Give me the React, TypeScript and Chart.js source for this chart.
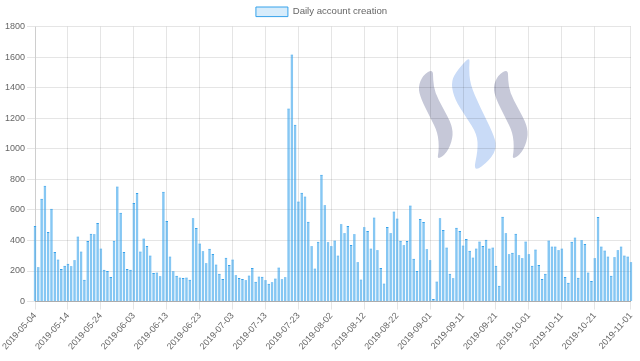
import React, { useEffect, useRef } from "react";
import { Chart, registerables } from "chart.js";

Chart.register(...registerables);

// ---- data ----
const startDate = "2019-05-04";
const dayCount = 182;

const dailyAccounts = [
  495, 224, 673, 758, 455, 607, 325, 275, 213, 235,
  248, 231, 270, 426, 328, 143, 396, 444, 440, 514,
  347, 209, 200, 160, 398, 754, 582, 325, 213, 209,
  646, 710, 328, 413, 363, 301, 187, 191, 165, 719,
  527, 295, 198, 169, 158, 154, 158, 143, 545, 481,
  380, 330, 251, 345, 312, 242, 182, 147, 286, 240,
  275, 172, 155, 148, 140, 170, 220, 129, 164, 162,
  140, 116, 127, 151, 223, 146, 159, 1264, 1618, 1157,
  655, 712, 688, 522, 362, 216, 391, 830, 631, 389,
  362, 400, 301, 506, 448, 495, 371, 440, 257, 145,
  486, 462, 347, 550, 336, 220, 119, 488, 448, 589,
  543, 398, 369, 396, 629, 281, 200, 541, 521, 343,
  270, 16, 132, 545, 468, 354, 182, 152, 484, 462,
  367, 409, 332, 288, 347, 393, 363, 404, 347, 354,
  235, 103, 556, 448, 310, 319, 444, 303, 284, 393,
  310, 235, 341, 240, 147, 182, 400, 360, 360, 336,
  347, 160, 123, 391, 420, 156, 402, 376, 191, 134,
  284, 554, 360, 334, 295, 169, 290, 336, 360, 301,
  295, 257,
];

const tickLabels = [
  "2019-05-04", "2019-05-14", "2019-05-24", "2019-06-03", "2019-06-13",
  "2019-06-23", "2019-07-03", "2019-07-13", "2019-07-23", "2019-08-02",
  "2019-08-12", "2019-08-22", "2019-09-01", "2019-09-11", "2019-09-21",
  "2019-10-01", "2019-10-11", "2019-10-21", "2019-11-01",
];

const yTicks = { min: 0, max: 1800, step: 200 };
const seriesLabel = "Daily account creation";

// categories: consecutive days from startDate
const dates: string[] = [];
{
  const d0 = new Date(startDate + "T00:00:00Z");
  for (let i = 0; i < dayCount; i++) {
    const d = new Date(d0.getTime() + i * 86400000);
    dates.push(d.toISOString().slice(0, 10));
  }
}

// ---- watermark (decorative logo) ----
type Pt = [number, number];
const swooshLeft: Pt[] = [
  [433, 69], [423, 75], [418, 87], [421, 99], [430, 117], [438, 133], [439, 150],
  [437, 160], [447, 153], [453, 138], [452, 125], [443, 108], [435, 93], [433, 80],
];
const swooshMid: Pt[] = [
  [470, 56], [455, 73], [451, 84], [455, 100], [466, 117], [477, 134], [478, 150],
  [473, 173], [490, 160], [497, 147], [493, 133], [480, 107], [470, 84], [469, 67],
];
const swooshRight: Pt[] = swooshLeft.map(([x, y]) => [x + 75, y] as Pt);

function smoothClosed(ctx: CanvasRenderingContext2D, pts: Pt[]) {
  const n = pts.length;
  const mid = (a: Pt, b: Pt): Pt => [(a[0] + b[0]) / 2, (a[1] + b[1]) / 2];
  ctx.beginPath();
  const m0 = mid(pts[n - 1], pts[0]);
  ctx.moveTo(m0[0], m0[1]);
  for (let i = 0; i < n; i++) {
    const p = pts[i];
    const m = mid(p, pts[(i + 1) % n]);
    ctx.quadraticCurveTo(p[0], p[1], m[0], m[1]);
  }
  ctx.closePath();
}

const watermarkPlugin = {
  id: "watermark",
  beforeDraw(chart: any) {
    const ctx: CanvasRenderingContext2D = chart.ctx;
    ctx.save();
    ctx.fillStyle = "rgb(198,200,216)";
    smoothClosed(ctx, swooshLeft);
    ctx.fill();
    smoothClosed(ctx, swooshRight);
    ctx.fill();
    ctx.fillStyle = "rgb(201,219,247)";
    smoothClosed(ctx, swooshMid);
    ctx.fill();
    ctx.restore();
  },
};

export default function App() {
  const ref = useRef<HTMLCanvasElement | null>(null);

  useEffect(() => {
    document.body.style.margin = "0";
    const canvas = ref.current;
    if (!canvas) return;
    const family = "'Liberation Sans', Arial, Helvetica, sans-serif";
    const legendFont = { family, size: 9.6 };
    const tickFont = { family, size: 9 };
    const chart = new Chart(canvas, {
      type: "bar",
      data: {
        labels: dates,
        datasets: [
          {
            label: seriesLabel,
            data: dailyAccounts,
            backgroundColor: "rgba(54,162,235,0.6)",
            borderColor: "rgb(54,162,235)",
            borderWidth: { top: 1, left: 0, right: 0, bottom: 0 },
            borderSkipped: "bottom",
            categoryPercentage: 1,
            barPercentage: 0.82,
            clip: false,
          } as any,
        ],
      },
      options: {
        animation: false,
        responsive: false,
        events: [],
        layout: { padding: { left: 3, right: 0, top: 0, bottom: 8 } },
        plugins: {
          legend: {
            position: "top",
            labels: {
              boxWidth: 32,
              boxHeight: 9.6,
              padding: 7,
              color: "#666",
              font: legendFont,
              generateLabels: (c: any) => {
                const items = (Chart.defaults.plugins.legend.labels as any).generateLabels(c);
                return items.map((it: any) => ({
                  ...it,
                  fillStyle: "rgba(54,162,235,0.2)",
                  strokeStyle: "rgb(54,162,235)",
                  lineWidth: 1,
                }));
              },
            },
          },
          tooltip: { enabled: false },
        },
        scales: {
          x: {
            type: "category",
            offset: false,
            grid: { offset: false, color: "rgba(0,0,0,0.1)", tickLength: 8 },
            border: { color: "rgba(0,0,0,0.25)" },
            ticks: {
              autoSkip: false,
              minRotation: 48,
              maxRotation: 48,
              color: "#666",
              font: tickFont,
              padding: 1,
              callback: (_v: any, index: number) => {
                const lbl = dates[index];
                return tickLabels.includes(lbl) ? lbl : null;
              },
            },
          },
          y: {
            min: yTicks.min,
            max: yTicks.max,
            grid: { color: "rgba(0,0,0,0.1)", tickLength: 8 },
            border: { color: "rgba(0,0,0,0.1)" },
            ticks: {
              stepSize: yTicks.step,
              color: "#666",
              font: tickFont,
              padding: 2,
              callback: (v: any) => String(v),
            },
          },
        },
      },
      plugins: [watermarkPlugin],
    });
    return () => chart.destroy();
  }, []);

  return (
    <div style={{ width: 640, height: 361 }}>
      <canvas ref={ref} width={640} height={361} style={{ display: "block" }} />
    </div>
  );
}
